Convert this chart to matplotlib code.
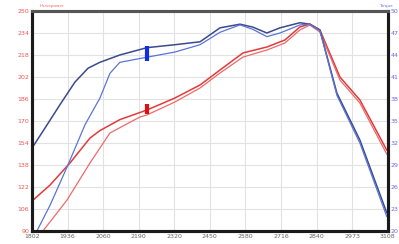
import matplotlib
matplotlib.use("Agg")
import matplotlib.pyplot as plt
import numpy as np

# rpm readings
rpm_tq1 = [1800, 1847, 1902, 1957, 2005, 2048, 2121, 2220, 2322, 2414, 2487, 2560,
           2607, 2658, 2706, 2779, 2815, 2852, 2914, 2998, 3096]
tq1 = [31.3, 34.0, 37.2, 40.3, 42.2, 43.0, 44.0, 45.0, 45.4, 45.8, 47.7, 48.2,
       47.8, 47.0, 47.7, 48.4, 48.2, 47.4, 38.8, 32.4, 22.5]

rpm_tq2 = [1818, 1866, 1928, 1994, 2048, 2085, 2121, 2220, 2322, 2414, 2487, 2560,
           2607, 2658, 2706, 2779, 2815, 2852, 2914, 2998, 3096]
tq2 = [20.0, 23.5, 28.7, 34.5, 38.1, 41.5, 43.0, 43.7, 44.4, 45.4, 47.1, 48.1,
       47.5, 46.5, 47.0, 48.1, 48.2, 47.3, 38.5, 32.0, 22.0]

rpm_hp1 = [1800, 1866, 1939, 2012, 2048, 2121, 2220, 2322, 2414, 2487, 2571, 2658,
           2724, 2779, 2815, 2852, 2925, 2998, 3096]
hp1 = [111.8, 123.4, 139.5, 157.6, 163.0, 171.0, 178.0, 186.7, 196.2, 207.1, 219.5, 223.8,
       228.9, 238.4, 240.5, 236.2, 202.0, 185.3, 148.9]

rpm_hp2 = [1840, 1928, 2012, 2085, 2194, 2220, 2322, 2414, 2487, 2571, 2658, 2724,
           2779, 2815, 2852, 2925, 2998, 3096]
hp2 = [90.0, 112.5, 139.5, 161.3, 172.9, 174.4, 183.8, 194.0, 204.9, 216.5, 221.6, 226.7,
       236.2, 239.8, 234.7, 199.8, 183.1, 146.0]

# cursor marks
cursor_rpm = 2220
cursor_hp = (175.0, 182.5)
cursor_tq = (43.2, 45.2)

xticks = np.linspace(1800, 3100, 11)
xlabels = ['1802', '1936', '2060', '2190', '2320', '2450', '2580', '2716', '2840', '2973', '3108']
hp_ticks = list(range(90, 251, 16))
tq_ticks = list(range(20, 51, 3))

fig = plt.figure(figsize=(3.99, 2.44), dpi=100)
ax = fig.add_axes([0.080, 0.053, 0.892, 0.902])
ax2 = ax.twinx()

ax.plot(rpm_hp1, hp1, color='#e23a3a', lw=1.1)
ax.plot(rpm_hp2, hp2, color='#ec6a6a', lw=0.9)
ax.plot([cursor_rpm, cursor_rpm], cursor_hp, color='#e01010', lw=3, solid_capstyle='butt')

ax2.plot(rpm_tq1, tq1, color='#3b4a8c', lw=1.1)
ax2.plot(rpm_tq2, tq2, color='#5a74d8', lw=0.9)
ax2.plot([cursor_rpm, cursor_rpm], cursor_tq, color='#1030e0', lw=3, solid_capstyle='butt')

ax.set_xlim(1800, 3100)
ax.set_ylim(90, 250)
ax2.set_ylim(20, 50)

ax.set_xticks(xticks)
ax.set_xticklabels(xlabels)
ax.set_yticks(hp_ticks)
ax2.set_yticks(tq_ticks)
ax.grid(True, color='#e2e2e2', lw=0.8)
ax.set_axisbelow(True)

ax.tick_params(axis='x', length=0, pad=2, labelsize=4.5, labelcolor='#666666')
ax.tick_params(axis='y', length=0, pad=2, labelsize=4.5, labelcolor='#ee5555')
ax2.tick_params(axis='y', length=0, pad=2, labelsize=4.5, labelcolor='#6a6ae8')

for a in (ax, ax2):
    for side in ('left', 'bottom', 'right'):
        a.spines[side].set_linewidth(2.2)
        a.spines[side].set_color('#1a1a1a')
    a.spines['top'].set_linewidth(2.2)
    a.spines['top'].set_color('#555555')

fig.text(0.13, 0.985, 'Horsepower', color='#ee6666', fontsize=3, ha='center', va='top')
fig.text(0.985, 0.985, 'Torque', color='#6a6ae8', fontsize=3, ha='right', va='top')

fig.savefig('out.png', dpi=100)
